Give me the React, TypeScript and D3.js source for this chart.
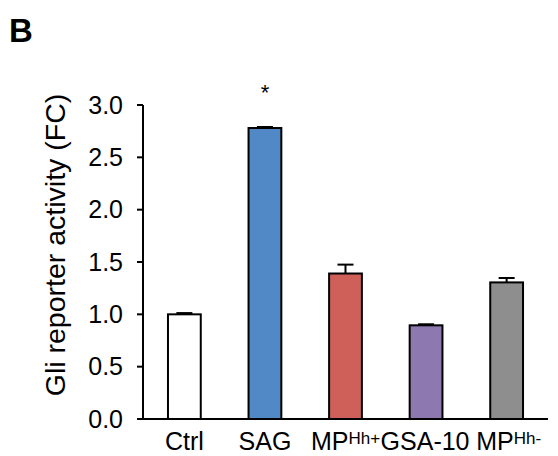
import React from "react";
import * as d3 from "d3";

const categories = ["Ctrl", "SAG", "MPHh+", "GSA-10", "MPHh-"];
const values = [1.0, 2.78, 1.39, 0.895, 1.305];
const errors = [0.012, 0.01, 0.085, 0.01, 0.042];
const colors = ["#ffffff", "#5089c6", "#cf5f59", "#8e78b0", "#8e8e8e"];
const yTicks = [0, 0.5, 1.0, 1.5, 2.0, 2.5, 3.0];
const labelMain = ["Ctrl", "SAG", "MP", "GSA-10", "MP"];
const labelSup = ["", "", "Hh+", "", "Hh-"];
const significant = [false, true, false, false, false];

export default function App() {
  const W = 558, H = 456;
  const x0 = 143, x1 = 548, yTop = 105, yBase = 419;
  const x = d3.scaleBand<string>().domain(categories).range([x0, x1]).paddingInner(0.593).paddingOuter(0.31);
  const y = d3.scaleLinear().domain([0, 3]).range([yBase, yTop]);
  const font = "'Liberation Sans', Arial, Helvetica, sans-serif";
  const capW = 16;
  const labelShift = [0, 0, 0, -1, 2];
  return (
    <svg width={W} height={H} style={{ position: "absolute", left: 0, top: 0 }} fontFamily={font}>
      <rect width={W} height={H} fill="#fff" />
      <text x={9} y={42} fontSize={33} fontWeight="bold">B</text>
      {/* y label */}
      <text transform={`translate(65,245) rotate(-90)`} textAnchor="middle" fontSize={28.5}>
        Gli reporter activity (FC)
      </text>
      {/* error bars */}
      {categories.map((c, i) => {
        const cx = (x(c) as number) + x.bandwidth() / 2;
        const top = y(values[i] + errors[i]);
        return (
          <g key={"e" + c} stroke="#000" strokeWidth={2}>
            <line x1={cx} x2={cx} y1={y(values[i])} y2={top} />
            <line x1={cx - capW / 2} x2={cx + capW / 2} y1={top} y2={top} />
          </g>
        );
      })}
      {/* bars */}
      {categories.map((c, i) => (
        <rect
          key={c}
          x={x(c)}
          y={y(values[i])}
          width={x.bandwidth()}
          height={yBase - y(values[i])}
          fill={colors[i]}
          stroke="#000"
          strokeWidth={2}
        />
      ))}
      {/* significance */}
      {categories.map((c, i) =>
        significant[i] ? (
          <text key={"s" + c} x={(x(c) as number) + x.bandwidth() / 2} y={100} textAnchor="middle" fontSize={22}>*</text>
        ) : null
      )}
      {/* y axis */}
      <line x1={x0} x2={x0} y1={yTop} y2={yBase} stroke="#000" strokeWidth={2} />
      {yTicks.map((t) => (
        <g key={t}>
          <line x1={x0 - 6} x2={x0} y1={y(t)} y2={y(t)} stroke="#000" strokeWidth={2} />
          <text x={123} y={y(t) + 8.5} textAnchor="end" fontSize={25}>{t.toFixed(1)}</text>
        </g>
      ))}
      {/* x axis */}
      <line x1={x0 - 1} x2={x1} y1={yBase} y2={yBase} stroke="#000" strokeWidth={2} />
      {categories.map((c, i) => (
        <text key={"l" + c} x={(x(c) as number) + x.bandwidth() / 2 + labelShift[i]} y={450} textAnchor="middle" fontSize={25}>
          {labelMain[i]}
          {labelSup[i] ? <tspan fontSize={17} dy={-6}>{labelSup[i]}</tspan> : null}
        </text>
      ))}
    </svg>
  );
}
